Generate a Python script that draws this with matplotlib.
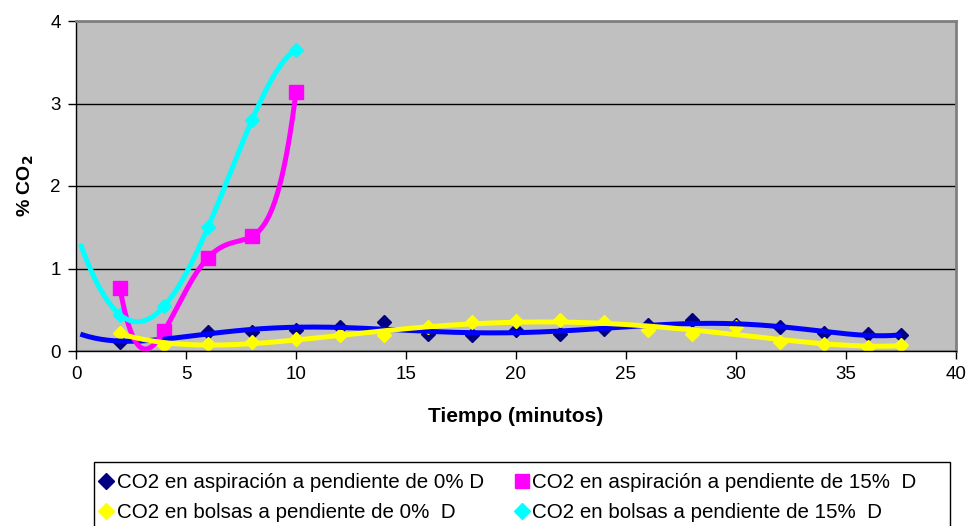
import numpy as np
import matplotlib
matplotlib.use("Agg")
import matplotlib.pyplot as plt
from matplotlib.lines import Line2D
from matplotlib.patches import Rectangle

plt.rcParams['font.family'] = ['Liberation Sans', 'DejaVu Sans']

# Measured CO2 concentrations (%) against time (minutes)
t_asp0 = [2, 4, 6, 8, 10, 12, 14, 16, 18, 20, 22, 24, 26, 28, 30, 32, 34, 36, 37.5]
co2_asp0 = [0.11, 0.16, 0.23, 0.23, 0.25, 0.29, 0.35, 0.21, 0.19, 0.25, 0.21, 0.27,
            0.31, 0.38, 0.31, 0.29, 0.22, 0.21, 0.19]

t_asp15 = [2, 4, 6, 8, 10]
co2_asp15 = [0.76, 0.24, 1.13, 1.39, 3.14]

t_bol0 = [2, 4, 6, 8, 10, 12, 14, 16, 18, 20, 22, 24, 26, 28, 30, 32, 34, 36, 37.5]
co2_bol0 = [0.22, 0.07, 0.085, 0.11, 0.14, 0.19, 0.20, 0.29, 0.35, 0.36, 0.37, 0.35,
            0.25, 0.21, 0.29, 0.11, 0.09, 0.05, 0.07]

t_bol15 = [2, 4, 6, 8, 10]
co2_bol15 = [0.44, 0.54, 1.50, 2.80, 3.65]

labels = [
    "CO2 en aspiración a pendiente de 0% D",
    "CO2 en aspiración a pendiente de 15%  D",
    "CO2 en bolsas a pendiente de 0%  D",
    "CO2 en bolsas a pendiente de 15%  D",
]

# Polynomial trend settings: (order, backward forecast in minutes)
trend_asp0 = (6, 1.8)
trend_asp15 = (4, 0.0)
trend_bol0 = (6, 0.0)
trend_bol15 = (4, 1.8)


def trend(ax, x, y, order, back, color):
    x = np.asarray(x, float)
    y = np.asarray(y, float)
    coef = np.polyfit(x, y, order)
    xs = np.linspace(x.min() - back, x.max(), 400)
    ax.plot(xs, np.polyval(coef, xs), color=color, lw=3.6, zorder=3,
            solid_capstyle='butt')


W, H = 973, 526
fig = plt.figure(figsize=(W / 100, H / 100), dpi=100)
ax = fig.add_axes([76 / W, 1 - 351 / H, 880 / W, 330 / H])
ax.set_facecolor('#C0C0C0')

navy = '#000080'
blue = '#0000FF'
magenta = '#FF00FF'
yellow = '#FFFF00'
cyan = '#00FFFF'

# markers
ax.plot(t_asp0, co2_asp0, ls='none', marker='D', ms=7.5, color=navy, zorder=2)
ax.plot(t_asp15, co2_asp15, ls='none', marker='s', ms=9.5, color=magenta, zorder=2)
ax.plot(t_bol0, co2_bol0, ls='none', marker='D', ms=7.5, color=yellow, zorder=2)
ax.plot(t_bol15, co2_bol15, ls='none', marker='D', ms=7.5, color=cyan, zorder=2)

# trend lines
trend(ax, t_asp0, co2_asp0, *trend_asp0, blue)
trend(ax, t_asp15, co2_asp15, *trend_asp15, magenta)
trend(ax, t_bol0, co2_bol0, *trend_bol0, yellow)
trend(ax, t_bol15, co2_bol15, *trend_bol15, cyan)

ax.set_xlim(0, 40)
ax.set_ylim(0, 4)
ax.set_xticks(range(0, 41, 5))
ax.set_yticks(range(0, 5))
ax.yaxis.grid(True, color='black', lw=1.0)
ax.set_axisbelow(True)

for side in ('top', 'right'):
    ax.spines[side].set_color('#808080')
    ax.spines[side].set_linewidth(2)
for side in ('left', 'bottom'):
    ax.spines[side].set_color('black')
    ax.spines[side].set_linewidth(1)
ax.tick_params(direction='out', length=6, width=1, labelsize=13.5, pad=5,
               colors='black')

ax.set_xlabel('Tiempo (minutos)', fontsize=15, fontweight='bold', labelpad=17)
ax.set_ylabel('% CO$_\\mathbf{2}$', fontsize=14, fontweight='bold', labelpad=10)

handles = [
    Line2D([], [], ls='none', marker='D', ms=8, color=navy),
    Line2D([], [], ls='none', marker='s', ms=10, color=magenta),
    Line2D([], [], ls='none', marker='D', ms=8, color=yellow),
    Line2D([], [], ls='none', marker='D', ms=8, color=cyan),
]
# column-wise order so rows read: asp0 | asp15 / bol0 | bol15
order = [0, 2, 1, 3]
leg = fig.legend([handles[i] for i in order], [labels[i] for i in order],
                 ncol=2, loc='upper left', bbox_to_anchor=(93 / W, 1 - 466 / H),
                 frameon=False, fontsize=14.8,
                 handlelength=0.6, handletextpad=0.2, columnspacing=1.55,
                 labelspacing=0.52, borderpad=0.35, borderaxespad=0)

# legend box
fig.add_artist(Rectangle((94 / W, 1 - 540 / H), (950 - 94) / W, 78 / H,
                         transform=fig.transFigure, fill=False,
                         edgecolor='black', lw=1, clip_on=False))

fig.savefig('out.png', dpi=100)
